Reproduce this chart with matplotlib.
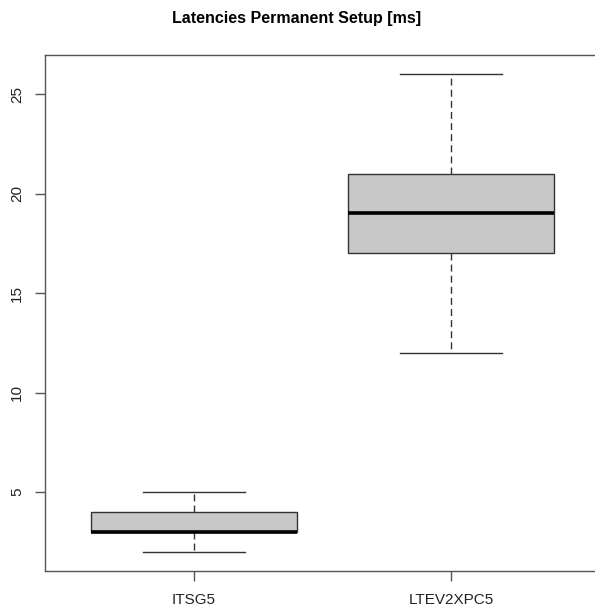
import matplotlib
matplotlib.use("Agg")
import matplotlib.pyplot as plt

plt.rcParams['font.family'] = ['Liberation Sans', 'DejaVu Sans']

groups = ["ITSG5", "LTEV2XPC5"]
whislo = [2, 12]
q1 = [3, 17]
med = [3, 19]
q3 = [4, 21]
whishi = [5, 26]

stats = []
for i, g in enumerate(groups):
    stats.append(dict(label=g, whislo=whislo[i], q1=q1[i], med=med[i],
                      q3=q3[i], whishi=whishi[i], fliers=[]))

fig = plt.figure(figsize=(5.95, 6.1), dpi=100)
ax = fig.add_axes([45 / 595, 39 / 610, 555 / 595, 516 / 610])

edge = "#333333"
ax.bxp(stats, positions=[1, 2], widths=0.8, patch_artist=True,
       boxprops=dict(facecolor="#c8c8c8", edgecolor=edge, linewidth=1),
       medianprops=dict(color="black", linewidth=2.6, solid_capstyle="butt"),
       whiskerprops=dict(color=edge, linewidth=1, linestyle=(0, (5, 3))),
       capprops=dict(color=edge, linewidth=1), capwidths=0.4)

ax.set_xlim(0.42, 2.58)
ax.set_ylim(1.04, 26.96)
ax.set_xticks([1, 2])
ax.set_xticklabels(groups)
ax.set_yticks([5, 10, 15, 20, 25])
for lab in ax.get_yticklabels():
    lab.set_rotation(90)
    lab.set_va("center")
ax.tick_params(axis="both", direction="out", length=7, width=1,
               color="#555555", labelsize=11, labelcolor="#222222")
ax.tick_params(axis="x", pad=9)
ax.tick_params(axis="y", pad=8)
for s in ax.spines.values():
    s.set_color("#555555")
    s.set_linewidth(1)

fig.text(297 / 595, 1 - 19 / 610, "Latencies Permanent Setup [ms]",
         ha="center", va="center", fontsize=11.5, fontweight="bold")

fig.savefig("out.png", dpi=100)
